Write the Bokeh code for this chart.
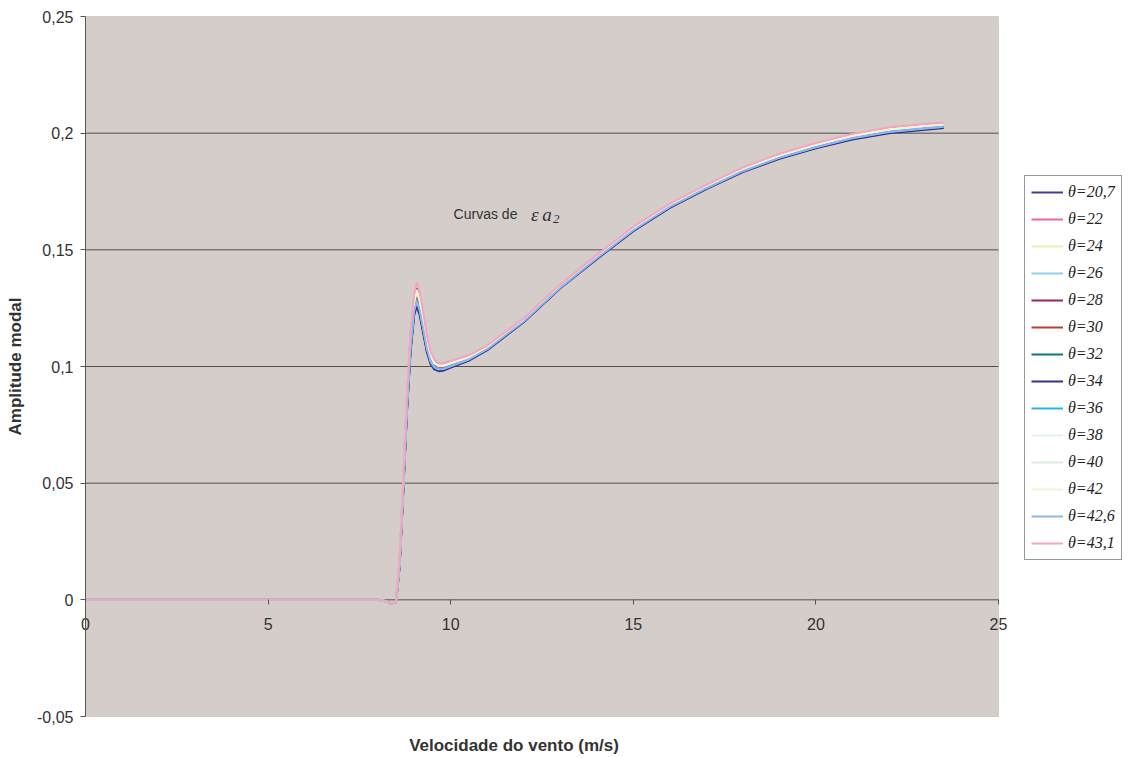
from bokeh.plotting import figure
from bokeh.models import Range1d, FixedTicker, Legend, LegendItem, Label, BoxAnnotation
from bokeh.embed import file_html
from bokeh.resources import INLINE

# wind speed (m/s)
velocidade = [0, 2, 4, 6, 8, 8.2, 8.35, 8.5, 8.6, 8.7, 8.8, 8.9, 9.0, 9.07, 9.15, 9.25,
              9.35, 9.45, 9.55, 9.67, 9.8, 10, 10.5, 11, 11.5, 12, 13, 14, 15, 16, 17,
              18, 19, 20, 21, 22, 23, 23.5]

pre = [0, 0, 0, 0, 0, -0.0005, -0.0015, -0.0012]

theta_20_7 = pre + [0.0143, 0.0465, 0.0807, 0.1069, 0.1229, 0.1268, 0.123, 0.1149, 0.1067, 0.1016,
                    0.0992, 0.0984, 0.0985, 0.0998, 0.1027, 0.1072, 0.1132, 0.1192, 0.1337, 0.1462,
                    0.1582, 0.1682, 0.1762, 0.1835, 0.1892, 0.1937, 0.1975, 0.2003, 0.2018, 0.2024]
theta_22 = pre + [0.0149, 0.0475, 0.0821, 0.1087, 0.1247, 0.1289, 0.125, 0.1167, 0.1081, 0.1027,
                  0.1001, 0.0991, 0.0992, 0.1004, 0.1032, 0.1076, 0.1135, 0.1195, 0.134, 0.1465,
                  0.1585, 0.1685, 0.1765, 0.1839, 0.1897, 0.1942, 0.198, 0.2008, 0.2023, 0.2029]
theta_24 = pre + [0.0154, 0.0483, 0.0832, 0.1101, 0.1261, 0.1304, 0.1265, 0.1181, 0.1092, 0.1035,
                  0.1007, 0.0996, 0.0997, 0.1009, 0.1035, 0.1079, 0.1138, 0.1198, 0.1343, 0.1468,
                  0.1588, 0.1688, 0.1768, 0.1842, 0.19, 0.1945, 0.1984, 0.2011, 0.2026, 0.2032]
theta_26 = pre + [0.0151, 0.0478, 0.0825, 0.1092, 0.1252, 0.1294, 0.1255, 0.1172, 0.1085, 0.1029,
                  0.1003, 0.0992, 0.0994, 0.1006, 0.1033, 0.1077, 0.1136, 0.1196, 0.1341, 0.1466,
                  0.1586, 0.1686, 0.1766, 0.184, 0.1898, 0.1943, 0.1981, 0.2009, 0.2024, 0.203]
theta_28 = pre + [0.0163, 0.0498, 0.0853, 0.1128, 0.1288, 0.1335, 0.1295, 0.1208, 0.1113, 0.1051,
                  0.102, 0.1006, 0.1007, 0.1018, 0.1042, 0.1085, 0.1144, 0.1203, 0.1348, 0.1474,
                  0.1594, 0.1694, 0.1774, 0.1848, 0.1907, 0.1952, 0.1991, 0.2019, 0.2034, 0.2039]
theta_30 = pre + [0.0155, 0.0485, 0.0835, 0.1105, 0.1265, 0.1309, 0.127, 0.1185, 0.1095, 0.1038,
                  0.1009, 0.0998, 0.0999, 0.101, 0.1037, 0.108, 0.1139, 0.1199, 0.1344, 0.1469,
                  0.1589, 0.1689, 0.1769, 0.1843, 0.1901, 0.1947, 0.1985, 0.2013, 0.2028, 0.2034]
theta_32 = pre + [0.0145, 0.0468, 0.0811, 0.1074, 0.1234, 0.1273, 0.1235, 0.1154, 0.1071, 0.1018,
                  0.0994, 0.0985, 0.0987, 0.1, 0.1029, 0.1073, 0.1133, 0.1193, 0.1338, 0.1463,
                  0.1583, 0.1683, 0.1763, 0.1836, 0.1893, 0.1939, 0.1977, 0.2004, 0.2019, 0.2026]
theta_34 = pre + [0.014, 0.046, 0.080, 0.106, 0.122, 0.1258, 0.122, 0.114, 0.106, 0.101,
                  0.0988, 0.098, 0.0982, 0.0995, 0.1025, 0.107, 0.113, 0.119, 0.1335, 0.146,
                  0.158, 0.168, 0.176, 0.1833, 0.189, 0.1935, 0.1973, 0.2, 0.2015, 0.2022]
theta_36 = pre + [0.0148, 0.0473, 0.0818, 0.1083, 0.1243, 0.1284, 0.1245, 0.1163, 0.1078, 0.1024,
                  0.0999, 0.0989, 0.099, 0.1003, 0.1031, 0.1075, 0.1135, 0.1194, 0.1339, 0.1465,
                  0.1585, 0.1685, 0.1765, 0.1838, 0.1896, 0.1941, 0.1979, 0.2006, 0.2021, 0.2028]
theta_38 = pre + [0.0158, 0.049, 0.0842, 0.1114, 0.1274, 0.1319, 0.128, 0.1194, 0.1102, 0.1043,
                  0.1013, 0.1001, 0.1002, 0.1013, 0.1039, 0.1082, 0.1141, 0.12, 0.1345, 0.1471,
                  0.1591, 0.1691, 0.1771, 0.1845, 0.1903, 0.1949, 0.1987, 0.2015, 0.203, 0.2036]
theta_40 = pre + [0.016, 0.0493, 0.0846, 0.1119, 0.1279, 0.1324, 0.1285, 0.1199, 0.1106, 0.1046,
                  0.1015, 0.1003, 0.1004, 0.1015, 0.104, 0.1083, 0.1142, 0.1201, 0.1346, 0.1472,
                  0.1592, 0.1692, 0.1772, 0.1846, 0.1904, 0.195, 0.1989, 0.2016, 0.2031, 0.2037]
theta_42 = pre + [0.0161, 0.0495, 0.0849, 0.1123, 0.1283, 0.1329, 0.129, 0.1203, 0.1109, 0.1049,
                  0.1017, 0.1005, 0.1005, 0.1016, 0.1041, 0.1084, 0.1143, 0.1202, 0.1347, 0.1473,
                  0.1593, 0.1693, 0.1773, 0.1847, 0.1905, 0.1951, 0.199, 0.2018, 0.2033, 0.2038]
theta_42_6 = pre + [0.0146, 0.047, 0.0814, 0.1078, 0.1238, 0.1278, 0.124, 0.1158, 0.1074, 0.1021,
                    0.0996, 0.0987, 0.0989, 0.1001, 0.103, 0.1074, 0.1134, 0.1193, 0.1338, 0.1464,
                    0.1584, 0.1684, 0.1764, 0.1837, 0.1894, 0.194, 0.1978, 0.2005, 0.202, 0.2027]
theta_43_1 = [0, 0, 0, 0, 0, -0.0005, -0.0015, -0.001] + [
    0.017, 0.051, 0.087, 0.115, 0.131, 0.136, 0.132, 0.123, 0.113, 0.1065,
    0.103, 0.1015, 0.1015, 0.1025, 0.1048, 0.109, 0.1148, 0.1207, 0.1352, 0.1478,
    0.1598, 0.1698, 0.1778, 0.1853, 0.1912, 0.1958, 0.1997, 0.2025, 0.204, 0.2045]

labels = ["θ=20,7", "θ=22", "θ=24", "θ=26", "θ=28", "θ=30", "θ=32", "θ=34",
          "θ=36", "θ=38", "θ=40", "θ=42", "θ=42,6", "θ=43,1"]
series = [theta_20_7, theta_22, theta_24, theta_26, theta_28, theta_30, theta_32,
          theta_34, theta_36, theta_38, theta_40, theta_42, theta_42_6, theta_43_1]
colors = ["#4A3A96", "#F0679F", "#EEEDB5", "#8AD3E6", "#9E2166", "#B8412F", "#117773",
          "#33338F", "#2DB3EC", "#DFF3F5", "#DCEEDD", "#F4F4D4", "#8FB6E8", "#F6A5BF"]

X_MIN, X_MAX = 0, 25
Y_MIN, Y_MAX = -0.05, 0.25
y_ticks = [-0.05, 0, 0.05, 0.1, 0.15, 0.2, 0.25]
y_tick_labels = ["-0,05", "0", "0,05", "0,1", "0,15", "0,2", "0,25"]
grid_y = [0, 0.05, 0.1, 0.15, 0.2]
x_ticks = [0, 5, 10, 15, 20, 25]

# page layout (pixels): plot area inside the 1128 x 758 canvas
W, H = 1128, 758
PL, PR, PT, PB = 85, 998, 16, 716
sx = (PR - PL) / (X_MAX - X_MIN)
sy = (PB - PT) / (Y_MAX - Y_MIN)

p = figure(width=W, height=H,
           x_range=Range1d(X_MIN - PL / sx, X_MAX + (W - PR) / sx),
           y_range=Range1d(Y_MIN - (H - PB) / sy, Y_MAX + PT / sy),
           output_backend="svg", toolbar_location=None,
           min_border=0, min_border_left=0, min_border_right=0,
           min_border_top=0, min_border_bottom=0,
           background_fill_color="white", border_fill_color="white",
           outline_line_color=None)

p.xgrid.visible = False
p.ygrid.visible = False

# plot area
p.add_layout(BoxAnnotation(left=X_MIN, right=X_MAX, bottom=Y_MIN, top=Y_MAX,
                           fill_color="#D4CDCA", fill_alpha=1,
                           line_color="#9A918C", line_width=1, level="image"))
# horizontal gridlines
p.segment(x0=[X_MIN] * len(grid_y), x1=[X_MAX] * len(grid_y), y0=grid_y, y1=grid_y,
          line_color="#55504D", line_width=1, level="underlay")

# y axis at x = 0
p.yaxis.fixed_location = X_MIN
p.yaxis.bounds = (Y_MIN, Y_MAX)
p.yaxis.ticker = FixedTicker(ticks=y_ticks)
p.yaxis.major_label_overrides = {t: s for t, s in zip(y_ticks, y_tick_labels)}
p.yaxis.minor_tick_line_color = None
p.yaxis.major_tick_out = 5
p.yaxis.major_tick_in = 0
p.yaxis.major_label_standoff = 7
p.yaxis.axis_line_color = "#5A5350"
p.yaxis.major_tick_line_color = "#5A5350"
p.yaxis.major_label_text_font = "Liberation Sans"
p.yaxis.major_label_text_font_size = "16px"
p.yaxis.major_label_text_color = "#333333"
p.yaxis.axis_label = "Amplitude modal"
p.yaxis.axis_label_text_font = "Liberation Sans"
p.yaxis.axis_label_text_font_style = "bold"
p.yaxis.axis_label_text_font_size = "17px"
p.yaxis.axis_label_text_color = "#333333"
p.yaxis.axis_label_standoff = 9

# x axis at y = 0
p.xaxis.fixed_location = 0
p.xaxis.bounds = (X_MIN, X_MAX)
p.xaxis.ticker = FixedTicker(ticks=x_ticks)
p.xaxis.minor_tick_line_color = None
p.xaxis.major_tick_out = 5
p.xaxis.major_tick_in = 0
p.xaxis.major_label_standoff = 13
p.xaxis.axis_line_color = None
p.xaxis.major_tick_line_color = "#5A5350"
p.xaxis.major_label_text_font = "Liberation Sans"
p.xaxis.major_label_text_font_size = "16px"
p.xaxis.major_label_text_color = "#333333"

# x axis title under the plot area
p.add_layout(Label(x=(X_MIN + X_MAX) / 2, y=Y_MIN, x_offset=-28, y_offset=-29,
                   text="Velocidade do vento (m/s)", text_align="center", text_baseline="middle",
                   text_font="Liberation Sans", text_font_style="bold", text_font_size="17px",
                   text_color="#333333"))

items = []
for lab, ys, c in zip(labels, series, colors):
    r = p.line(velocidade, ys, line_color=c, line_width=2)
    items.append(LegendItem(label=lab, renderers=[r]))

legend = Legend(items=items, location=(1024, 198), glyph_width=32, glyph_height=16,
                label_height=20, spacing=7, padding=6, label_standoff=5, margin=0,
                label_text_font="Liberation Serif", label_text_font_style="italic",
                label_text_font_size="16px", label_text_color="#222222",
                border_line_color="#333333", border_line_width=1,
                background_fill_color="white", background_fill_alpha=1)
p.add_layout(legend)

# annotation "Curvas de εa2"
p.add_layout(Label(x=10.08, y=0.1653, text="Curvas de", text_font="Liberation Sans",
                   text_font_size="14px", text_color="#333333", text_baseline="middle"))
p.add_layout(Label(x=12.2, y=0.1653, text="ε\u2009a", text_font="Liberation Serif",
                   text_font_style="italic", text_font_size="19px", text_color="#333333",
                   text_baseline="middle"))
p.add_layout(Label(x=12.8, y=0.1632, text="2", text_font="Liberation Serif",
                   text_font_style="italic", text_font_size="13px", text_color="#333333",
                   text_baseline="middle"))

open("out.html", "w").write(file_html(p, INLINE))
